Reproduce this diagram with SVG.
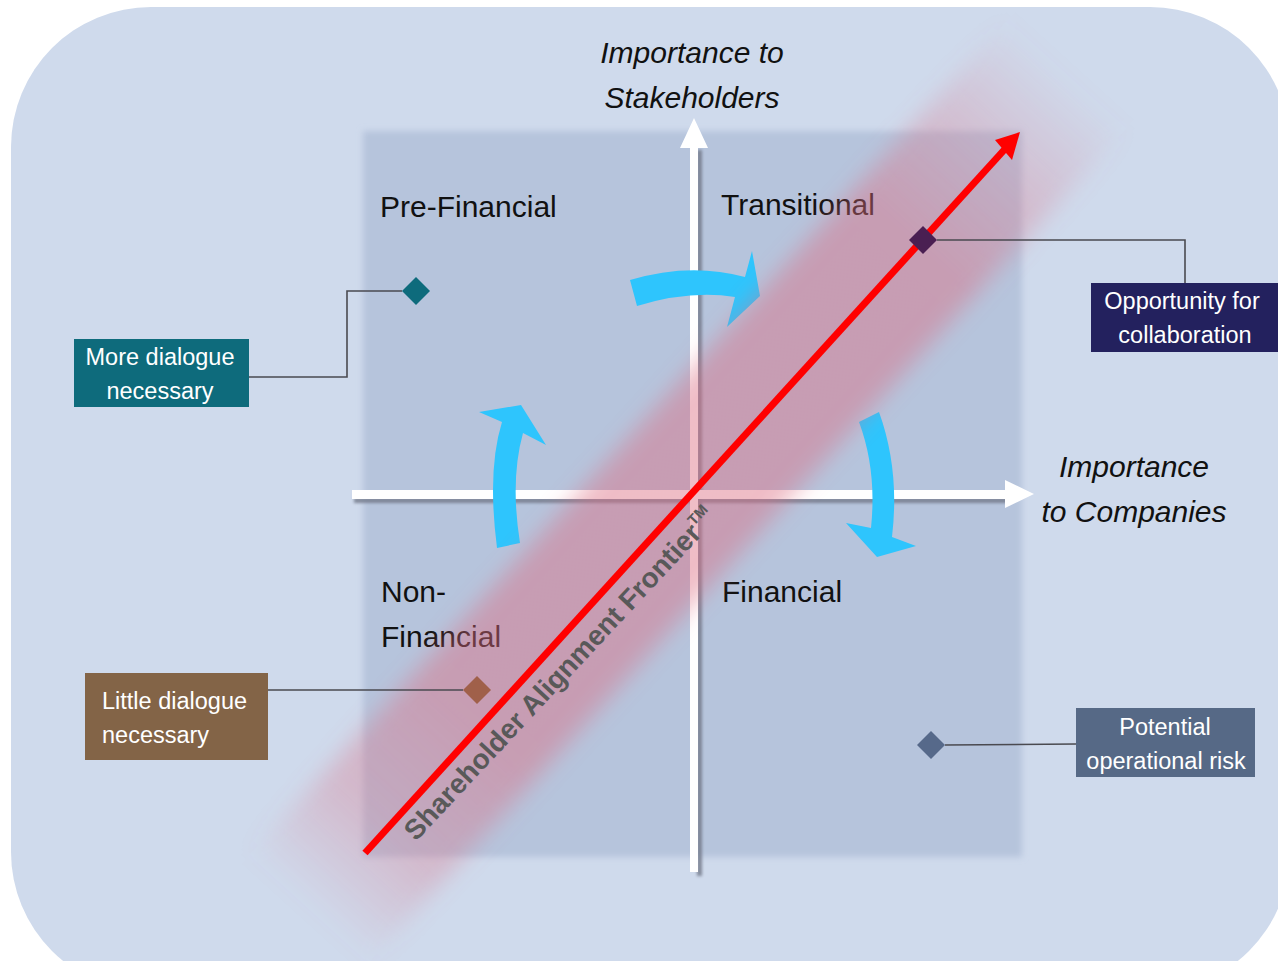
<svg xmlns="http://www.w3.org/2000/svg" width="1278" height="961" viewBox="0 0 1278 961">
  <defs>
    <filter id="soft" x="-5%" y="-5%" width="110%" height="110%">
      <feGaussianBlur stdDeviation="3"/>
    </filter>
    <filter id="bandBlur" x="-20%" y="-40%" width="140%" height="180%">
      <feGaussianBlur stdDeviation="11"/>
    </filter>
    <filter id="shadow" x="-10%" y="-10%" width="120%" height="120%">
      <feGaussianBlur stdDeviation="1.5"/>
    </filter>
    <linearGradient id="bandGrad" gradientUnits="userSpaceOnUse" x1="-80" y1="0" x2="1050" y2="0">
      <stop offset="0" stop-color="rgb(220,110,130)" stop-opacity="0"/>
      <stop offset="0.1" stop-color="rgb(220,110,130)" stop-opacity="0.3"/>
      <stop offset="0.22" stop-color="rgb(220,110,130)" stop-opacity="0.45"/>
      <stop offset="0.8" stop-color="rgb(220,110,130)" stop-opacity="0.45"/>
      <stop offset="0.9" stop-color="rgb(220,110,130)" stop-opacity="0.25"/>
      <stop offset="1" stop-color="rgb(220,110,130)" stop-opacity="0"/>
    </linearGradient>
    <style>
      .lbl { font-family: "Liberation Sans", Arial, sans-serif; font-size: 30px; fill: #111111; }
      .axis { font-family: "Liberation Sans", Arial, sans-serif; font-size: 30px; font-style: italic; fill: #111111; text-anchor: middle; }
      .box { font-family: "Liberation Sans", Arial, sans-serif; font-size: 23.5px; fill: #ffffff; }
      .conn { fill: none; stroke: #4a4a50; stroke-width: 1.6; }
      .blue { fill: #2ec5fd; }
    </style>
  </defs>

  <!-- background -->
  <rect x="11" y="7" width="1279" height="985" rx="140" ry="140" fill="#cfdaec"/>
  <!-- matrix square -->
  <rect x="363" y="131" width="659" height="726" fill="#b6c4dc" filter="url(#soft)"/>

  <!-- axes -->
  <g id="axes">
    <g filter="url(#shadow)" fill="#6f7686" opacity="0.8">
      <rect x="697" y="150" width="5" height="726"/>
      <rect x="354" y="498" width="654" height="5"/>
    </g>
    <rect x="690" y="146" width="8" height="726" fill="#ffffff"/>
    <polygon points="694,118 708,148 680,148" fill="#ffffff"/>
    <rect x="352" y="490" width="656" height="9" fill="#ffffff"/>
    <polygon points="1034,494 1005,480 1005,508" fill="#ffffff"/>
  </g>

  <!-- blue cycle arrows -->
  <g id="cycle-arrows">
    <path class="blue" d="M630,280 Q690,262 745,277 L752,251 L760,296 L727,327 L735,297 Q690,290 637,306 Z"/>
    <path class="blue" d="M497,548 Q487,470 502,422 L479,412 L521,405 L546,445 L523,433 Q510,480 520,543 Z"/>
    <path class="blue" d="M859,422 Q877,470 871,528 L846,523 L877,557 L916,546 L892,537 Q900,470 879,412 Z"/>
  </g>

  <!-- quadrant labels -->
  <g id="q-prefinancial"><text class="lbl" x="380" y="217">Pre-Financial</text></g>
  <g id="q-transitional"><text class="lbl" x="721" y="215">Transitional</text></g>
  <g id="q-nonfinancial"><text class="lbl" x="381" y="602">Non-</text><text class="lbl" x="381" y="647">Financial</text></g>
  <g id="q-financial"><text class="lbl" x="722" y="602">Financial</text></g>

  <!-- pink frontier band -->
  <g transform="translate(365,853) rotate(-47.75)">
    <rect x="-80" y="-84" width="1130" height="160" fill="url(#bandGrad)" filter="url(#bandBlur)"/>
  </g>

  <!-- frontier line -->
  <g id="frontier">
    <line x1="365" y1="853" x2="1005" y2="149" stroke="#ff0000" stroke-width="7"/>
    <polygon points="1020,132 995,140 1012,160" fill="#ff0000"/>
    <text x="416" y="842" transform="rotate(-47 416 842)" font-family="'Liberation Sans', Arial, sans-serif" font-size="28" font-weight="bold" fill="#595959">Shareholder Alignment Frontier<tspan font-size="15" dy="-12">TM</tspan></text>
  </g>

  <!-- connectors -->
  <g id="connectors">
    <polyline class="conn" points="402,291 347,291 347,377 249,377"/>
    <polyline class="conn" points="463,690 268,690"/>
    <polyline class="conn" points="937,240 1185,240 1185,284"/>
    <polyline class="conn" points="945,745 1076,744"/>
  </g>

  <!-- diamonds -->
  <g id="d-more"><polygon points="416,277 430,291 416,305 402,291" fill="#0e6b7c"/></g>
  <g id="d-little"><polygon points="477,676 491,690 477,704 463,690" fill="#a0604a"/></g>
  <g id="d-opportunity"><polygon points="923,226 937,240 923,254 909,240" fill="#4a1f52"/></g>
  <g id="d-risk"><polygon points="931,731 945,745 931,759 917,745" fill="#56698a"/></g>

  <!-- callout boxes -->
  <g id="more-dialogue">
    <rect x="74" y="339" width="175" height="68" fill="#0e6b7c"/>
    <text class="box" x="160" y="365" text-anchor="middle">More dialogue</text>
    <text class="box" x="160" y="399" text-anchor="middle">necessary</text>
  </g>
  <g id="little-dialogue">
    <rect x="85" y="673" width="183" height="87" fill="#836447"/>
    <text class="box" x="102" y="709">Little dialogue</text>
    <text class="box" x="102" y="743">necessary</text>
  </g>
  <g id="opportunity">
    <rect x="1091" y="283" width="190" height="69" fill="#23215e"/>
    <text class="box" x="1182" y="309" text-anchor="middle">Opportunity for</text>
    <text class="box" x="1185" y="343" text-anchor="middle">collaboration</text>
  </g>
  <g id="operational-risk">
    <rect x="1076" y="708" width="179" height="69" fill="#566986"/>
    <text class="box" x="1165" y="735" text-anchor="middle">Potential</text>
    <text class="box" x="1166" y="769" text-anchor="middle">operational risk</text>
  </g>

  <!-- axis titles -->
  <g id="axis-y-title">
    <text class="axis" x="692" y="63">Importance to</text>
    <text class="axis" x="692" y="108">Stakeholders</text>
  </g>
  <g id="axis-x-title">
    <text class="axis" x="1134" y="477">Importance</text>
    <text class="axis" x="1134" y="522">to Companies</text>
  </g>
</svg>
